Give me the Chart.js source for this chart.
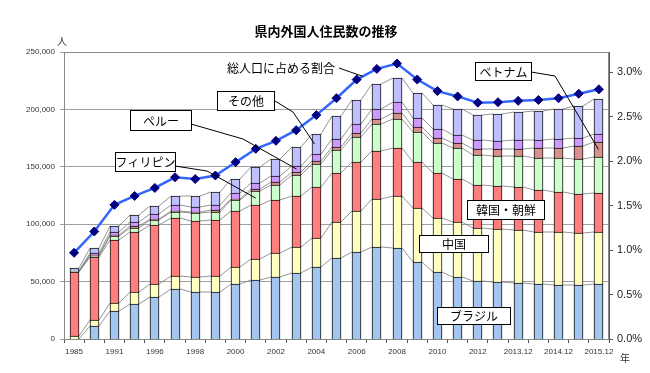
<!DOCTYPE html>
<html><head><meta charset="utf-8">
<script src="https://cdn.jsdelivr.net/npm/chart.js@4/dist/chart.umd.min.js"></script>
<style>html,body{margin:0;padding:0;background:#fff}canvas{display:block}</style>
</head><body>
<canvas id="c" width="650" height="373"></canvas>
<script>
const categories = ['1985','1990','1991','1993','1996','1997','1998','1999','2000','2001','2002','2003','2004','2005','2006','2007','2008','2009','2010','2011','2012','2013.6','2013.12','2014.6','2014.12','2015.6','2015.12'];
const brazil = [200,11300,24400,30300,36400,43400,40700,41300,47700,51500,53800,57300,63100,70900,76200,80500,79100,66900,58200,54400,50900,49500,48600,48000,47400,46800,48000];
const china  = [2400,5300,6700,10400,11300,11600,13100,13700,15400,18000,21000,22700,25300,30600,35200,41100,45900,46800,47600,47100,46200,46200,46500,45600,45400,45400,44800];
const korea  = [56100,54700,55300,52400,51800,50300,49200,48800,48000,47400,45900,45000,44000,43100,42800,41800,41700,40500,38800,38100,37300,37200,37600,35800,35200,34300,34300];
const philippines = [300,1200,3600,4000,4300,5500,6500,7100,9600,12200,13700,18100,20300,19700,21800,24200,25300,25800,26200,26800,25900,26200,26900,28300,29700,30300,31400];
const vietnam = [100,300,700,900,900,900,1000,1100,1200,1500,2000,2000,2000,3000,3500,4100,4900,4700,4300,4400,5200,6400,6000,8400,8700,11000,12800];
const peru   = [100,2500,2400,3800,4100,4600,4900,4900,5200,5300,5800,5300,6500,7000,8100,8700,9300,7900,7900,7200,7500,7300,7500,7500,7900,7300,7600];
const other  = [2500,3800,4900,6400,7200,8500,9400,10800,12200,13600,14900,16900,17700,19700,20400,21500,21300,21800,21200,22400,22200,23300,24500,25400,26100,27600,30300];
const ratio  = [0.97,1.21,1.51,1.61,1.70,1.82,1.80,1.84,1.99,2.14,2.23,2.35,2.52,2.71,2.92,3.04,3.10,2.92,2.79,2.73,2.66,2.665,2.68,2.69,2.71,2.76,2.81];
const leftTicks = [0,50000,100000,150000,200000,250000];
const rightTicks = [0,0.5,1.0,1.5,2.0,2.5,3.0];

const seriesNames = ['ブラジル','中国','韓国・朝鮮','フィリピン','ベトナム','ペルー','その他'];
const seriesData = [brazil, china, korea, philippines, vietnam, peru, other];
const seriesColors = ['#A4C6EE','#FFFFC0','#FF7F7F','#CCFFCC','#D8918F','#CC99FF','#BFBFFF'];

const JP = '"Noto Sans CJK JP", sans-serif';
const LAT = '"Liberation Sans", Arial, sans-serif';

const datasets = seriesData.map((d, i) => ({
  type: 'bar', label: seriesNames[i], data: d, backgroundColor: seriesColors[i],
  borderColor: '#111', borderWidth: 1, stack: 's', yAxisID: 'y', order: 1,
  barThickness: 9
}));
datasets.push({
  type: 'line', label: '総人口に占める割合', data: ratio, yAxisID: 'y2', order: 0,
  borderColor: '#3366FF', borderWidth: 2.5, pointStyle: 'rectRot', pointRadius: 4.5,
  pointBackgroundColor: '#000080', pointBorderColor: '#000080', pointBorderWidth: 1, tension: 0
});

function segMid(chart, ds, i) {
  const el = chart.getDatasetMeta(ds).data[i];
  return { x: el.x, y: (el.y + el.base) / 2, w: el.width };
}

const deco = {
  id: 'deco',
  afterDatasetsUpdate(chart) {
    // snap bar edges to whole pixels so every border is drawn crisply
    for (let d = 0; d < seriesData.length; d++) {
      chart.getDatasetMeta(d).data.forEach(el => {
        el.x = Math.round(el.x - 0.5) + 0.5;
        el.y = Math.round(el.y);
        el.base = Math.round(el.base);
      });
    }
  },
  beforeDatasetsDraw(chart) {
    const ctx = chart.ctx, a = chart.chartArea;
    ctx.save();
    ctx.strokeStyle = '#8a8a8a'; ctx.lineWidth = 1;
    ctx.strokeRect(Math.round(a.left) + 0.5, Math.round(a.top) + 0.5, Math.round(a.right - a.left) - 1, Math.round(a.bottom - a.top));
    ctx.strokeStyle = '#7a7a7a'; ctx.lineWidth = 0.8;
    for (let d = 0; d < seriesData.length; d++) {
      const els = chart.getDatasetMeta(d).data;
      for (let i = 0; i < els.length - 1; i++) {
        const e1 = els[i], e2 = els[i + 1];
        ctx.beginPath();
        ctx.moveTo(e1.x + e1.width / 2, e1.y);
        ctx.lineTo(e2.x - e2.width / 2, e2.y);
        ctx.stroke();
      }
    }
    ctx.restore();
  },
  afterDraw(chart) {
    const ctx = chart.ctx;
    ctx.save();
    ctx.fillStyle = '#000';
    ctx.font = 'bold 13px ' + JP;
    ctx.textAlign = 'center'; ctx.textBaseline = 'middle';
    ctx.fillText('県内外国人住民数の推移', 326, 31);
    ctx.font = '10px ' + JP; ctx.fillStyle = '#333';
    ctx.fillText('人', 62, 41);
    ctx.fillText('年', 625, 358);

    function leader(pts) {
      ctx.strokeStyle = '#000'; ctx.lineWidth = 1;
      ctx.beginPath(); ctx.moveTo(pts[0][0], pts[0][1]);
      for (let k = 1; k < pts.length; k++) ctx.lineTo(pts[k][0], pts[k][1]);
      ctx.stroke();
    }
    function box(text, x1, y1, x2, y2) {
      ctx.fillStyle = '#fff';
      ctx.fillRect(x1, y1, x2 - x1, y2 - y1);
      ctx.strokeStyle = '#000'; ctx.lineWidth = 1;
      ctx.strokeRect(x1 + 0.5, y1 + 0.5, x2 - x1 - 1, y2 - y1 - 1);
      ctx.fillStyle = '#000'; ctx.font = '12px ' + JP;
      ctx.textAlign = 'center'; ctx.textBaseline = 'middle';
      ctx.fillText(text, (x1 + x2) / 2, (y1 + y2) / 2 + 0.5);
    }
    const lm = chart.getDatasetMeta(7).data;
    const lx = lm[14].x + (lm[15].x - lm[14].x) * 0.3, ly = lm[14].y + (lm[15].y - lm[14].y) * 0.3;
    leader([[339, 68], [lx, ly]]);
    ctx.fillStyle = '#000'; ctx.font = '12px ' + JP; ctx.textAlign = 'left'; ctx.textBaseline = 'middle';
    ctx.fillText('総人口に占める割合', 227, 68);

    const pO = segMid(chart, 6, 12);
    leader([[275, 101], [293, 112], [pO.x - 2, pO.y]]);
    box('その他', 217, 91, 275, 111);

    const pP = segMid(chart, 5, 11);
    leader([[191, 124], [243, 139], [pP.x, pP.y]]);
    box('ペルー', 130, 110, 192, 131);

    const pF = segMid(chart, 3, 9);
    leader([[175, 166], [207, 171], [pF.x, pF.y]]);
    box('フィリピン', 115, 152, 176, 172);

    const pV = segMid(chart, 4, 26);
    leader([[531, 72], [555, 76], [pV.x, pV.y]]);
    box('ベトナム', 475, 62, 532, 81);

    box('韓国・朝鮮', 467, 200, 545, 220);
    box('中国', 419, 235, 489, 253);
    box('ブラジル', 437, 307, 511, 325);
    ctx.restore();
  }
};

new Chart(document.getElementById('c'), {
  data: { labels: categories, datasets },
  options: {
    responsive: false, animation: false,
    layout: { padding: { top: 52, left: 0, right: 0, bottom: 0 } },
    plugins: { legend: { display: false }, tooltip: { enabled: false }, title: { display: false } },
    scales: {
      x: {
        stacked: true, offset: true,
        grid: { offset: true, drawOnChartArea: false, tickLength: 4, color: '#555' },
        border: { color: '#444' },
        ticks: { autoSkip: false, maxRotation: 0, minRotation: 0, padding: 4, color: '#333',
          font: { family: LAT, size: 8 },
          callback: (v, i) => (i % 2 === 0 ? categories[i] : '') },
        afterFit: s => { s.height = 34; }
      },
      y: {
        stacked: true, min: 0, max: 250000, position: 'left',
        afterBuildTicks: s => { s.ticks = leftTicks.map(v => ({ value: v })); },
        grid: { color: '#a0a0a0', tickLength: 4, lineWidth: 1 },
        border: { color: '#555' },
        ticks: { color: '#333', padding: 5, font: { family: LAT, size: 8 },
          callback: v => v.toLocaleString('en-US') },
        afterFit: s => { s.width = 64; }
      },
      y2: {
        stacked: false, min: 0, max: 3.23, position: 'right',
        afterBuildTicks: s => { s.ticks = rightTicks.map(v => ({ value: v })); },
        grid: { drawOnChartArea: false, tickLength: 4, color: '#555' },
        border: { color: '#555' },
        ticks: { color: '#222', padding: 4, font: { family: LAT, size: 11 },
          callback: v => v.toFixed(1) + '%' },
        afterFit: s => { s.width = 41; }
      }
    }
  },
  plugins: [deco]
});
</script>
</body></html>
